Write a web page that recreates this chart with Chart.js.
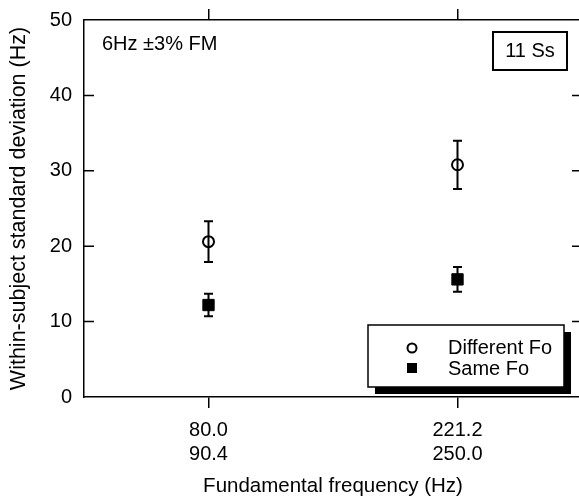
<!DOCTYPE html>
<html>
<head>
<meta charset="utf-8">
<script src="https://cdn.jsdelivr.net/npm/chart.js@4.4.1/dist/chart.umd.min.js"></script>
<style>
    html, body { margin: 0; padding: 0; background: #fff; overflow: hidden; }
    #wrap { width: 582px; height: 502px; }
</style>
</head>
<body>
<div id="wrap"><canvas id="fmChart" width="582" height="502"></canvas></div>
<script>
// ---- data ----
const categories = [["80.0", "90.4"], ["221.2", "250.0"]];
const differentFo = [20.6, 30.8];
const differentFoSD = [2.7, 3.2];
const sameFo = [12.2, 15.6];
const sameFoSD = [1.5, 1.65];
const yTicks = [0, 10, 20, 30, 40, 50];

const FONT = "'Liberation Sans', Arial, Helvetica, sans-serif";

// error bars, inner ticks, text notes and the shadowed legend
const extras = {
    id: "extras",
    afterDatasetsDraw(chart) {
        const ctx = chart.ctx;
        const y = chart.scales.y;
        const area = chart.chartArea;
        ctx.save();
        ctx.strokeStyle = "#000";
        ctx.fillStyle = "#000";

        // error bars
        ctx.lineWidth = 2;
        chart.data.datasets.forEach((ds, i) => {
            const meta = chart.getDatasetMeta(i);
            meta.data.forEach((pt, j) => {
                const hi = y.getPixelForValue(ds.data[j] + ds.sd[j]);
                const lo = y.getPixelForValue(ds.data[j] - ds.sd[j]);
                ctx.beginPath();
                ctx.moveTo(pt.x, hi); ctx.lineTo(pt.x, lo);
                ctx.moveTo(pt.x - 4.5, hi); ctx.lineTo(pt.x + 4.5, hi);
                ctx.moveTo(pt.x - 4.5, lo); ctx.lineTo(pt.x + 4.5, lo);
                ctx.stroke();
            });
        });

        // inward ticks, left and right
        ctx.lineWidth = 1.5;
        yTicks.slice(1, -1).forEach(v => {
            const py = y.getPixelForValue(v);
            ctx.beginPath();
            ctx.moveTo(area.left, py); ctx.lineTo(area.left + 10, py);
            ctx.moveTo(area.right - 10, py); ctx.lineTo(area.right, py);
            ctx.stroke();
        });

        // notes
        ctx.font = "20px " + FONT;
        ctx.textBaseline = "alphabetic";
        ctx.textAlign = "left";
        ctx.fillText("6Hz \u00b13% FM", 102, 50);

        ctx.lineWidth = 2;
        ctx.strokeRect(493, 32, 74, 38);
        ctx.textAlign = "center";
        ctx.fillText("11 Ss", 530, 57);

        // legend box with drop shadow
        ctx.fillStyle = "#000";
        ctx.fillRect(375, 332, 196, 62);
        ctx.fillStyle = "#fff";
        ctx.fillRect(368, 325, 196, 62);
        ctx.lineWidth = 1.5;
        ctx.strokeRect(368, 325, 196, 62);

        ctx.fillStyle = "#000";
        ctx.lineWidth = 2;
        ctx.beginPath();
        ctx.arc(412, 348, 4.5, 0, Math.PI * 2);
        ctx.stroke();
        ctx.fillRect(407, 363, 10, 10);

        ctx.textAlign = "left";
        ctx.textBaseline = "middle";
        ctx.fillText(chart.data.datasets[0].label, 448, 348);
        ctx.fillText(chart.data.datasets[1].label, 448, 369);

        ctx.restore();
    }
};

const noPadX = s => { s.paddingLeft = 0; s.paddingRight = 0; };

const ctx = document.getElementById("fmChart").getContext("2d");

new Chart(ctx, {
    type: "line",
    data: {
        labels: categories,
        datasets: [
            {
                label: "Different Fo",
                data: differentFo,
                sd: differentFoSD,
                showLine: false,
                pointStyle: "circle",
                pointRadius: 5.5,
                pointBackgroundColor: "#fff",
                pointBorderColor: "#000",
                pointBorderWidth: 2
            },
            {
                label: "Same Fo",
                data: sameFo,
                sd: sameFoSD,
                showLine: false,
                pointStyle: "rect",
                pointRadius: 8,
                pointBackgroundColor: "#000",
                pointBorderColor: "#000",
                pointBorderWidth: 1
            }
        ]
    },
    options: {
        responsive: false,
        animation: false,
        events: [],
        layout: { padding: 0, autoPadding: false },
        plugins: {
            legend: { display: false },
            tooltip: { enabled: false }
        },
        scales: {
            x: {
                type: "category",
                position: "bottom",
                offset: true,
                grid: {
                    drawOnChartArea: false,
                    drawTicks: true,
                    tickLength: 11,
                    color: "#000",
                    lineWidth: 1.5
                },
                border: { color: "#000", width: 1.5 },
                ticks: {
                    color: "#000",
                    padding: 10,
                    maxRotation: 0,
                    autoSkip: false,
                    font: { family: FONT, size: 20, lineHeight: 1.2 }
                },
                title: {
                    display: true,
                    text: "Fundamental frequency (Hz)",
                    color: "#000",
                    font: { family: FONT, size: 20.5 },
                    padding: { top: 0, bottom: 3 }
                },
                afterFit: s => { s.height = 105; noPadX(s); }
            },
            x2: {
                type: "category",
                position: "top",
                offset: true,
                labels: categories,
                grid: {
                    drawOnChartArea: false,
                    drawTicks: true,
                    tickLength: 11,
                    color: "#000",
                    lineWidth: 1.5
                },
                border: { color: "#000", width: 1.5 },
                ticks: { display: false },
                afterFit: s => { s.height = 20; noPadX(s); }
            },
            y: {
                min: 0,
                max: 50,
                grid: { display: false, drawTicks: false },
                border: { color: "#000", width: 1.5 },
                ticks: {
                    stepSize: 10,
                    color: "#000",
                    padding: 12,
                    font: { family: FONT, size: 20 }
                },
                title: {
                    display: true,
                    text: "Within-subject standard deviation (Hz)",
                    color: "#000",
                    font: { family: FONT, size: 21.5 },
                    padding: { top: 6, bottom: 0 }
                },
                afterFit: s => { s.width = 84; s.paddingTop = 0; s.paddingBottom = 0; }
            }
        }
    },
    plugins: [extras]
});
</script>
</body>
</html>
